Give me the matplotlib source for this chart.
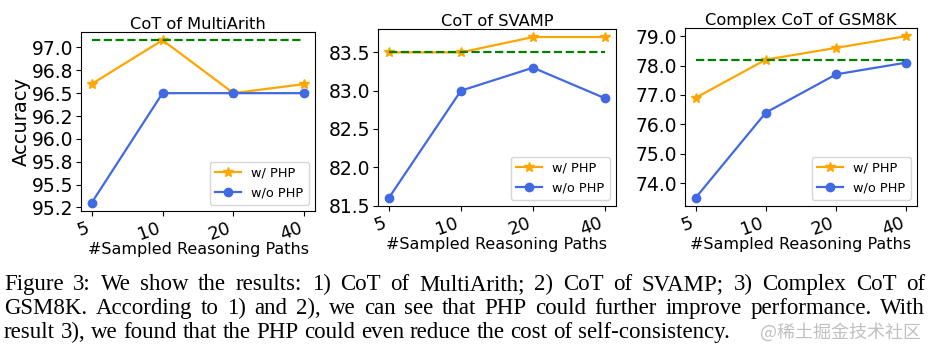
import matplotlib.pyplot as plt
from matplotlib.ticker import FormatStrFormatter, MultipleLocator

W, H = 936, 355
fig = plt.figure(figsize=(W / 100, H / 100), dpi=100)

# data
paths = ["5", "10", "20", "40"]
titles = ["CoT of MultiArith", "CoT of SVAMP", "Complex CoT of GSM8K"]

multiarith_php = [96.6, 97.08, 96.5, 96.6]
multiarith_base = [95.3, 96.5, 96.5, 96.5]
svamp_php = [83.5, 83.5, 83.7, 83.7]
svamp_base = [81.6, 83.0, 83.3, 82.9]
gsm8k_php = [76.9, 78.2, 78.6, 79.0]
gsm8k_base = [73.5, 76.4, 77.7, 78.1]
ref_lines = [97.08, 83.5, 78.2]
y_steps = [0.25, 0.5, 1.0]

# axes boxes in pixels: left, top, right, bottom
boxes = [(81, 32, 315, 211), (378, 29, 616, 206), (685, 28, 917, 206)]
php_series = [multiarith_php, svamp_php, gsm8k_php]
base_series = [multiarith_base, svamp_base, gsm8k_base]

x = list(range(len(paths)))
for i, (l, t, r, b) in enumerate(boxes):
    ax = fig.add_axes([l / W, (H - b) / H, (r - l) / W, (b - t) / H])
    ax.plot(x, php_series[i], color='orange', marker='*', markersize=7, lw=1.6, label='w/ PHP')
    ax.plot(x, base_series[i], color='royalblue', marker='o', markersize=6, lw=1.6, label='w/o PHP')
    ax.plot(x, [ref_lines[i]] * len(x), color='green', ls='--', lw=1.6)
    ax.set_xticks(x)
    ax.set_xticklabels(paths, rotation=20, ha='right', fontsize=13)
    ax.tick_params(axis='x', pad=2)
    ax.tick_params(axis='y', labelsize=13.5, pad=2)
    ax.yaxis.set_major_locator(MultipleLocator(y_steps[i]))
    ax.yaxis.set_major_formatter(FormatStrFormatter('%.1f'))
    ax.set_title(titles[i], fontsize=11.7, pad=1)
    ax.set_xlabel("#Sampled Reasoning Paths", fontsize=11.5, labelpad=-1)
    if i == 0:
        ax.set_ylabel("Accuracy", fontsize=14, labelpad=1)
    ax.legend(loc='lower right', fontsize=9.3)

# caption, justified like the paper
cap_lines = [
    "Figure 3: We show the results: 1) CoT of MultiArith; 2) CoT of SVAMP; 3) Complex CoT of",
    "GSM8K. According to 1) and 2), we can see that PHP could further improve performance. With",
    "result 3), we found that the PHP could even reduce the cost of self-consistency.",
]
cap_y = [290, 314, 338]
cap_fs = 16.5
x0, x1 = 4, 925
renderer = fig.canvas.get_renderer()
for n, (line, yy) in enumerate(zip(cap_lines, cap_y)):
    words = line.split(" ")
    texts = [fig.text(0, (H - yy) / H, w, fontsize=cap_fs, family='Liberation Serif',
                      va='baseline', ha='left', color='black') for w in words]
    widths = [tx.get_window_extent(renderer).width for tx in texts]
    if n == len(cap_lines) - 1:
        gap = 0.25 * cap_fs * 100 / 72
    else:
        gap = (x1 - x0 - sum(widths)) / (len(words) - 1)
    xp = x0
    for tx, w in zip(texts, widths):
        tx.set_x(xp / W)
        xp += w + gap

# watermark
fig.text(921 / W, (H - 338) / H, "@稀土掘金技术社区", fontsize=13, color='#c0c0c0',
         family=['Noto Sans CJK SC', 'DejaVu Sans'], ha='right', va='baseline')

fig.savefig("out.png", dpi=100)
